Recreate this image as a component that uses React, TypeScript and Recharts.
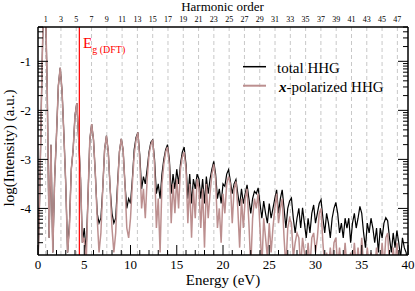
import React from "react";
import { LineChart, Line, XAxis, YAxis, ReferenceLine } from "recharts";

// energy grid (eV)
const energy = [
  0.0, 0.2, 0.4, 0.6, 0.8, 1.0, 1.2, 1.4, 1.6, 1.8,
  2.0, 2.2, 2.4, 2.6, 2.8, 3.0, 3.2, 3.4, 3.6, 3.8,
  4.0, 4.2, 4.4, 4.6, 4.8, 5.0, 5.2, 5.4, 5.6, 5.8,
  6.0, 6.2, 6.4, 6.6, 6.8, 7.0, 7.2, 7.4, 7.6, 7.8,
  8.0, 8.2, 8.4, 8.6, 8.8, 9.0, 9.2, 9.4, 9.6, 9.8,
  10.0, 10.2, 10.4, 10.6, 10.8, 11.0, 11.2, 11.4, 11.6, 11.8,
  12.0, 12.2, 12.4, 12.6, 12.8, 13.0, 13.2, 13.4, 13.6, 13.8,
  14.0, 14.2, 14.4, 14.6, 14.8, 15.0, 15.2, 15.4, 15.6, 15.8,
  16.0, 16.2, 16.4, 16.6, 16.8, 17.0, 17.2, 17.4, 17.6, 17.8,
  18.0, 18.2, 18.4, 18.6, 18.8, 19.0, 19.2, 19.4, 19.6, 19.8,
  20.0, 20.2, 20.4, 20.6, 20.8, 21.0, 21.2, 21.4, 21.6, 21.8,
  22.0, 22.2, 22.4, 22.6, 22.8, 23.0, 23.2, 23.4, 23.6, 23.8,
  24.0, 24.2, 24.4, 24.6, 24.8, 25.0, 25.2, 25.4, 25.6, 25.8,
  26.0, 26.2, 26.4, 26.6, 26.8, 27.0, 27.2, 27.4, 27.6, 27.8,
  28.0, 28.2, 28.4, 28.6, 28.8, 29.0, 29.2, 29.4, 29.6, 29.8,
  30.0, 30.2, 30.4, 30.6, 30.8, 31.0, 31.2, 31.4, 31.6, 31.8,
  32.0, 32.2, 32.4, 32.6, 32.8, 33.0, 33.2, 33.4, 33.6, 33.8,
  34.0, 34.2, 34.4, 34.6, 34.8, 35.0, 35.2, 35.4, 35.6, 35.8,
  36.0, 36.2, 36.4, 36.6, 36.8, 37.0, 37.2, 37.4, 37.6, 37.8,
  38.0, 38.2, 38.4, 38.6, 38.8, 39.0, 39.2, 39.4, 39.6, 39.8,
  40.0,
];

// log10 intensity, total HHG
const totalHHG = [
  -5.2, -3.6, -1.5, 0.3, 0.3, -1.6, -4.6, -2.7, -4.9, -3.4,
  -2.5, -1.5, -1.13, -1.6, -2.5, -3.5, -4.9, -4.3, -3.2, -2.8,
  -2.1, -1.85, -2.6, -3.4, -4.7, -4.4, -4.9, -3.8, -2.6, -2.28,
  -2.6, -3.3, -4.1, -4.3, -4.2, -3.6, -2.8, -2.52, -2.85, -3.6,
  -4.1, -4.3, -4.2, -3.5, -2.85, -2.58, -2.8, -3.5, -4.0, -3.8,
  -3.9, -3.4, -2.8, -2.55, -2.45, -2.9, -3.6, -3.35, -3.5, -3.2,
  -2.85, -2.65, -2.6, -3.0, -3.7, -3.5, -3.8, -3.3, -3.0, -2.8,
  -2.7, -3.0, -3.7, -3.3, -3.6, -3.2, -3.5, -3.1, -2.85, -2.75,
  -3.1, -3.8, -3.3, -3.9, -3.4, -3.6, -3.3, -3.4, -3.8, -3.4,
  -3.9, -3.35, -3.7, -3.4, -3.2, -3.04, -3.3, -3.8, -3.6, -3.9,
  -3.5, -3.55, -3.3, -3.21, -3.45, -3.7, -3.5, -3.41, -3.7, -3.95,
  -3.6, -3.9, -3.7, -3.52, -3.8, -4.1, -3.8, -3.65, -3.7, -3.58,
  -3.9, -4.2, -3.85, -4.1, -4.3, -3.9, -4.2, -4.0, -3.8, -3.62,
  -4.1, -3.8, -3.62, -4.0, -4.4, -4.0, -3.85, -3.79, -4.2, -4.5,
  -4.2, -4.0, -4.4, -3.99, -4.3, -4.6, -4.2, -4.5, -4.1, -3.93,
  -4.3, -4.1, -3.9, -3.82, -4.2, -4.5, -4.1, -4.3, -4.6, -4.2,
  -4.0, -3.88, -4.1, -4.5, -4.3, -4.6, -4.2, -4.4, -4.2, -4.7,
  -4.3, -4.1, -4.4, -4.2, -3.96, -4.1, -4.5, -4.8, -4.3, -4.5,
  -4.2, -4.4, -4.7, -4.4, -4.9, -4.4, -4.6, -4.3, -4.19, -4.25,
  -4.6, -4.9, -4.5, -4.8, -4.45, -4.7, -5.0, -4.6, -4.8, -4.9,
  -5.2,
];

// log10 intensity, x-polarized HHG
const xPolHHG = [
  -5.2, -3.6, -1.5, 0.3, 0.3, -1.6, -4.6, -2.7, -4.9, -3.4,
  -2.5, -1.5, -1.13, -1.6, -2.5, -3.5, -4.9, -4.4, -3.2, -2.8,
  -2.1, -1.85, -2.6, -3.4, -4.7, -4.6, -5.2, -3.8, -2.6, -2.28,
  -2.6, -3.3, -4.2, -4.9, -4.5, -3.6, -2.8, -2.52, -2.85, -3.6,
  -4.4, -4.9, -4.5, -3.6, -2.85, -2.58, -2.8, -3.5, -4.4, -4.6,
  -4.2, -3.5, -2.9, -2.6, -2.45, -3.0, -4.0, -3.6, -4.2, -3.4,
  -2.9, -2.7, -2.6, -3.1, -4.4, -3.8, -4.9, -3.5, -3.1, -2.85,
  -2.75, -3.1, -4.3, -3.5, -4.1, -3.4, -4.0, -3.2, -2.95, -2.85,
  -3.2, -4.3, -3.5, -4.6, -3.6, -4.2, -3.4, -3.6, -4.4, -3.6,
  -4.8, -3.5, -4.2, -3.7, -3.3, -3.1, -3.4, -4.4, -4.0, -4.7,
  -3.7, -4.1, -3.5, -3.35, -3.5, -4.3, -3.6, -3.45, -4.0, -4.8,
  -3.8, -4.4, -3.8, -3.6, -4.3, -5.2, -4.2, -3.8, -4.0, -3.7,
  -4.4, -5.2, -4.2, -4.6, -5.0, -4.3, -4.9, -4.4, -4.0, -3.7,
  -4.3, -4.0, -3.8, -4.6, -5.2, -4.4, -4.2, -4.3, -5.0, -4.7,
  -4.5, -4.6, -5.2, -4.6, -4.9, -5.2, -4.7, -5.2, -4.6, -4.5,
  -4.9, -4.6, -4.1, -4.0, -4.7, -5.2, -4.9, -5.2, -4.8, -5.2,
  -4.7, -4.6, -5.2, -4.8, -5.2, -5.2, -4.7, -5.2, -5.2, -4.9,
  -5.2, -4.7, -5.2, -4.8, -5.2, -4.6, -5.2, -5.2, -4.8, -5.2,
  -4.9, -5.2, -5.2, -4.8, -5.2, -5.2, -4.7, -5.2, -4.6, -4.5,
  -5.2, -5.2, -4.8, -5.2, -4.7, -5.2, -5.2, -5.2, -5.2, -5.2,
  -5.2,
];

const harmonicOrders = [1, 3, 5, 7, 9, 11, 13, 15, 17, 19, 21, 23, 25, 27, 29, 31, 33, 35, 37, 39, 41, 43, 45, 47];
const photonEnergy = 0.8266; // eV
const gapEnergy = 4.47; // E_g (DFT)
const xLabels = [0, 5, 10, 15, 20, 25, 30, 35, 40];
const yLabels = [-4, -3, -2, -1];

const X_DOMAIN: [number, number] = [0, 40];
const Y_DOMAIN: [number, number] = [-4.95, -0.3];
const PLOT_L = 38;
const PLOT_R = 408;

const rows = energy.map((e, i) => ({ e, total: totalHHG[i], xpol: xPolHHG[i] }));
const harmonicEnergies = harmonicOrders.map((n) => n * photonEnergy);
const xTicks = Array.from({ length: 41 }, (_, i) => i);
const yTicks = [-5, -4, -3, -2, -1]
  .flatMap((n) => [n, ...[2, 3, 4, 5, 6, 7, 8, 9].map((k) => n + Math.log10(k))])
  .filter((v) => v > Y_DOMAIN[0] && v <= Y_DOMAIN[1] + 0.002);

const FONT = '"Liberation Serif", "Times New Roman", serif';

function LeftTick(props: any) {
  const { y, payload } = props;
  const major = yLabels.includes(payload.value);
  return (
    <g>
      <line x1={PLOT_L} x2={PLOT_L + (major ? 10 : 5)} y1={y} y2={y} stroke="#000" strokeWidth={1} />
      {major && (
        <text x={PLOT_L - 7} y={y + 4.5} textAnchor="end" fontSize={13} fill="#000" fontFamily={FONT}>
          {payload.value}
        </text>
      )}
    </g>
  );
}

function RightTick(props: any) {
  const { y, payload } = props;
  const major = yLabels.includes(payload.value);
  return <line x1={PLOT_R} x2={PLOT_R - (major ? 10 : 5)} y1={y} y2={y} stroke="#000" strokeWidth={1} />;
}

function BottomTick(props: any) {
  const { x, payload } = props;
  const y = 255;
  const major = xLabels.includes(payload.value);
  return (
    <g>
      <line x1={x} x2={x} y1={y} y2={y - (major ? 10 : 5)} stroke="#000" strokeWidth={1} />
      {major && (
        <text x={x} y={y + 14} textAnchor="middle" fontSize={13} fill="#000" fontFamily={FONT}>
          {payload.value}
        </text>
      )}
    </g>
  );
}

function TopTick(props: any) {
  const { x, index } = props;
  return (
    <text x={x} y={21.5} textAnchor="middle" fontSize={8} fill="#000" fontFamily={FONT}>
      {harmonicOrders[index]}
    </text>
  );
}

const frame = { stroke: "#000", strokeWidth: 1.5 };

export default function App() {
  return (
    <div style={{ position: "absolute", left: 0, top: 0, width: 415, height: 291, background: "#fff", fontFamily: FONT }}>
      <LineChart width={415} height={291} data={rows} margin={{ top: 0, right: 0, bottom: 0, left: 0 }}>
        <XAxis xAxisId="b" dataKey="e" type="number" domain={X_DOMAIN} ticks={xTicks} interval={0} allowDataOverflow
          height={36} tickSize={0} tickMargin={0} tickLine={false} axisLine={frame} tick={<BottomTick />} />
        <XAxis xAxisId="t" dataKey="e" type="number" orientation="top" domain={X_DOMAIN} ticks={harmonicEnergies} interval={0} allowDataOverflow
          height={27} tickSize={0} tickMargin={0} tickLine={false} axisLine={frame} tick={<TopTick />} />
        <YAxis yAxisId="l" type="number" domain={Y_DOMAIN} ticks={yTicks} interval={0} allowDataOverflow
          width={38} tickSize={0} tickMargin={0} tickLine={false} axisLine={frame} tick={<LeftTick />} />
        <YAxis yAxisId="r" type="number" orientation="right" domain={Y_DOMAIN} ticks={yTicks} interval={0} allowDataOverflow
          width={7} tickSize={0} tickMargin={0} tickLine={false} axisLine={frame} tick={<RightTick />} />
        {harmonicEnergies.map((h) => (
          <ReferenceLine key={h} x={h} xAxisId="b" yAxisId="l" stroke="#c8c8c8" strokeWidth={1} strokeDasharray="4 3" />
        ))}
        <Line xAxisId="b" yAxisId="l" dataKey="total" stroke="#000" strokeWidth={1.2} dot={false} isAnimationActive={false} type="linear" />
        <Line xAxisId="b" yAxisId="l" dataKey="xpol" stroke="#bc8f8f" strokeWidth={1.5} dot={false} isAnimationActive={false} type="linear" />
        <ReferenceLine x={gapEnergy} xAxisId="b" yAxisId="l" stroke="#ff0000" strokeWidth={1.2} />
      </LineChart>
      <svg width={415} height={291} style={{ position: "absolute", left: 0, top: 0, pointerEvents: "none" }}>
        <text x={222.5} y={10.5} textAnchor="middle" fontSize={13} fontFamily={FONT}>Harmonic order</text>
        <text x={223} y={285} textAnchor="middle" fontSize={15} fontFamily={FONT}>Energy (eV)</text>
        <text transform="translate(14,148) rotate(-90)" textAnchor="middle" fontSize={15} fontFamily={FONT}>log(Intensity) (a.u.)</text>
        <text x={83} y={48} fontSize={15} fill="#ff0000" fontFamily={FONT}>
          E<tspan fontSize={10} dy={5}>g (DFT)</tspan>
        </text>
        <line x1={243} x2={266} y1={66.7} y2={66.7} stroke="#000" strokeWidth={1.5} />
        <line x1={243} x2={266} y1={85.7} y2={85.7} stroke="#bc8f8f" strokeWidth={2} />
        <text x={277} y={72.5} fontSize={15} fontFamily={FONT}>total HHG</text>
        <text x={279} y={92} fontSize={15} fontFamily={FONT}>
          <tspan fontWeight="bold" fontStyle="italic">x</tspan>-polarized HHG
        </text>
      </svg>
    </div>
  );
}
